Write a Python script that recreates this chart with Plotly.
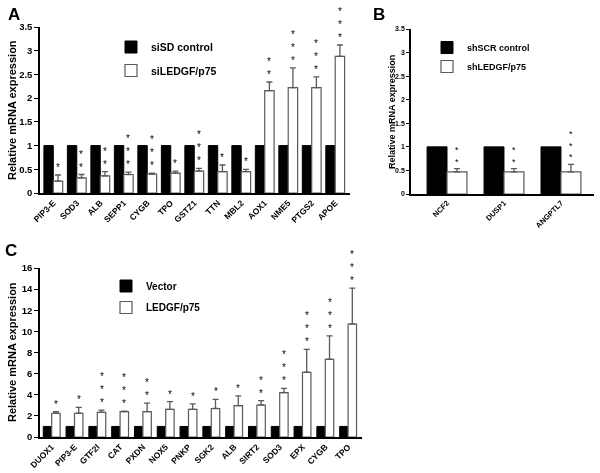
import plotly.graph_objects as go

# ---------------- data ----------------
A_genes = ["PIP3-E", "SOD3", "ALB", "SEPP1", "CYGB", "TPO", "GSTZ1", "TTN", "MBL2", "AOX1", "NME5", "PTGS2", "APOE"]
A_ctrl = [1, 1, 1, 1, 1, 1, 1, 1, 1, 1, 1, 1, 1]
A_kd = [0.25, 0.32, 0.36, 0.39, 0.40, 0.42, 0.46, 0.45, 0.45, 2.16, 2.22, 2.22, 2.88]
A_err = [0.13, 0.07, 0.09, 0.05, 0.02, 0.04, 0.06, 0.14, 0.05, 0.18, 0.42, 0.23, 0.24]
A_stars = [1, 2, 2, 3, 3, 1, 3, 1, 1, 2, 3, 3, 3]
A_names = ["siSD control", "siLEDGF/p75"]

B_genes = ["NCF2", "DUSP1", "ANGPTL7"]
B_ctrl = [1, 1, 1]
B_kd = [0.47, 0.47, 0.47]
B_err = [0.07, 0.07, 0.16]
B_stars = [2, 2, 3]
B_names = ["shSCR control", "shLEDGF/p75"]

C_genes = ["DUOX1", "PIP3-E", "GTF2I", "CAT", "PXDN", "NOX5", "PNKP", "SGK2", "ALB", "SIRT2", "SOD3", "EPX", "CYGB", "TPO"]
C_vec = [1, 1, 1, 1, 1, 1, 1, 1, 1, 1, 1, 1, 1, 1]
C_led = [2.25, 2.25, 2.34, 2.40, 2.40, 2.62, 2.62, 2.70, 2.97, 3.03, 4.20, 6.13, 7.36, 10.7]
C_err = [0.15, 0.55, 0.21, 0.05, 0.80, 0.73, 0.51, 0.87, 0.93, 0.42, 0.40, 2.17, 2.21, 3.40]
C_stars = [1, 1, 3, 3, 2, 1, 1, 1, 1, 2, 3, 3, 3, 3]
C_names = ["Vector", "LEDGF/p75"]

Y_TITLE = "Relative mRNA expression"

# ---------------- layout helpers ----------------
W, H = 600, 473
FONT = "Liberation Sans, Arial, sans-serif"


def fx(p):
    return p / W


def fy(p):
    return 1 - p / H


fig = go.Figure()
annotations = []


def add_panel(genes, ctrl, treat, err, stars, names, xa, ya, legend, width, fs_star):
    n = len(genes)
    fig.add_trace(go.Bar(
        x=genes, y=ctrl, width=width, offset=-width, name=names[0],
        marker=dict(color="black", line=dict(color="black", width=1)),
        xaxis=xa, yaxis=ya, legend=legend, legendgroup=legend + "a",
    ))
    fig.add_trace(go.Bar(
        x=genes, y=treat, width=width, offset=0, name=names[1],
        marker=dict(color="white", line=dict(color="#5a5a5a", width=1.2)),
        error_y=dict(type="data", symmetric=False, array=err, arrayminus=[0] * n,
                     color="#5a5a5a", thickness=1.3, width=3),
        xaxis=xa, yaxis=ya, legend=legend, legendgroup=legend + "b",
    ))
    for i in range(n):
        annotations.append(dict(
            x=i + width / 2, y=treat[i] + err[i], xref=xa, yref=ya,
            text="<br>".join(["*"] * stars[i]), showarrow=False,
            yanchor="bottom", xanchor="center", align="center",
            font=dict(size=fs_star, color="black", family=FONT),
        ))


add_panel(A_genes, A_ctrl, A_kd, A_err, A_stars, A_names, "x", "y", "legend", 0.4, 10)
add_panel(B_genes, B_ctrl, B_kd, B_err, B_stars, B_names, "x2", "y2", "legend2", 0.35, 9)
add_panel(C_genes, C_vec, C_led, C_err, C_stars, C_names, "x3", "y3", "legend3", 0.37, 10)

axis_common = dict(showline=True, linecolor="black", linewidth=1.5, showgrid=False,
                   zeroline=False, automargin=False)

xA = dict(axis_common, domain=[fx(40), fx(350)], anchor="y", type="category",
          range=[-0.566, 12.63], ticks="", tickangle=-45,
          tickfont=dict(size=8.5, weight="bold", family=FONT, color="black"))
yA = dict(axis_common, domain=[fy(193), fy(27)], anchor="x", range=[0, 3.5], dtick=0.5,
          ticks="outside", ticklen=4, tickwidth=1.2, tickcolor="black",
          tickfont=dict(size=9.5, weight="bold", family=FONT, color="black"))

xB = dict(axis_common, domain=[fx(411), fx(594)], anchor="y2", type="category",
          range=[-0.632, 2.58], ticks="", tickangle=-45,
          tickfont=dict(size=7.5, weight="bold", family=FONT, color="black"))
yB = dict(axis_common, domain=[fy(194), fy(29)], anchor="x2", range=[0, 3.5], dtick=0.5,
          ticks="outside", ticklen=3, tickwidth=1, tickcolor="black",
          tickfont=dict(size=7, weight="bold", family=FONT, color="black"))

xC = dict(axis_common, domain=[fx(40), fx(362)], anchor="y3", type="category",
          range=[-0.513, 13.61], ticks="", tickangle=-45,
          tickfont=dict(size=8.5, weight="bold", family=FONT, color="black"))
yC = dict(axis_common, domain=[fy(437), fy(268)], anchor="x3", range=[0, 16], dtick=2,
          ticks="outside", ticklen=4, tickwidth=1.2, tickcolor="black",
          tickfont=dict(size=9.5, weight="bold", family=FONT, color="black"))

# panel letters
for letter, x, y in [("A", 6, 3), ("B", 371, 3), ("C", 3, 239)]:
    annotations.append(dict(x=fx(x), y=fy(y), xref="paper", yref="paper", text="<b>%s</b>" % letter,
                            showarrow=False, xanchor="left", yanchor="top",
                            font=dict(size=17, color="black", family=FONT)))

# y-axis titles
for x, y, size in [(12, 110, 11), (392, 112, 9), (12, 352, 11)]:
    annotations.append(dict(x=fx(x), y=fy(y), xref="paper", yref="paper", text="<b>%s</b>" % Y_TITLE,
                            showarrow=False, textangle=-90, xanchor="center", yanchor="middle",
                            font=dict(size=size, color="black", family=FONT)))

leg_common = dict(xanchor="left", yanchor="top", bgcolor="rgba(0,0,0,0)", itemwidth=30,
                  traceorder="grouped")

fig.update_layout(
    width=W, height=H, margin=dict(l=0, r=0, t=0, b=0, pad=0, autoexpand=False),
    paper_bgcolor="white", plot_bgcolor="white",
    font=dict(family=FONT, color="black"),
    barmode="group",
    xaxis=xA, yaxis=yA, xaxis2=xB, yaxis2=yB, xaxis3=xC, yaxis3=yC,
    legend=dict(leg_common, x=fx(111), y=fy(32.5), tracegroupgap=4.5,
                font=dict(size=10.5, weight="bold", family=FONT)),
    legend2=dict(leg_common, x=fx(427), y=fy(33), tracegroupgap=0,
                 font=dict(size=9, weight="bold", family=FONT)),
    legend3=dict(leg_common, x=fx(106), y=fy(271.5), tracegroupgap=2.5,
                 font=dict(size=10, weight="bold", family=FONT)),
    annotations=annotations,
    showlegend=True,
)

POST = (
    "document.body.style.margin='0';document.body.style.overflow='hidden';"
    "var st=document.createElement('style');"
    "st.textContent='svg.main-svg{opacity:0.999;will-change:transform;}';"
    "document.head.appendChild(st);"
)

fig.write_html("out.html", config={"displayModeBar": False}, post_script=POST)
